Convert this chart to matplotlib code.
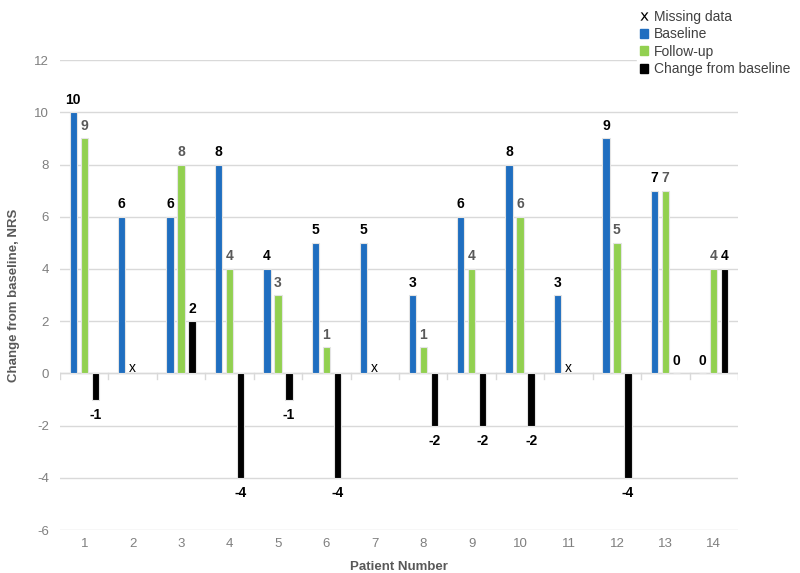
import numpy as np
import matplotlib.pyplot as plt
from matplotlib.lines import Line2D
import matplotlib.patches as mpatches

# ── data ───────────────────────────────────────────────────────────────────
patients = list(range(1, 15))
baseline = [10, 6, 6, 8, 4, 5, 5, 3, 6, 8, 3, 9, 7, 0]
followup = [9, None, 8, 4, 3, 1, None, 1, 4, 6, None, 5, 7, 4]
change = [-1, None, 2, -4, -1, -4, None, -2, -2, -2, None, -4, 0, 4]

COLOR_BASE = '#1F6EC0'
COLOR_FOLLOW = '#92D050'
COLOR_CHANGE = '#000000'
GRAY = '#7F7F7F'

plt.rcParams['font.family'] = ['Liberation Sans', 'DejaVu Sans']
plt.rcParams['axes.unicode_minus'] = False

fig = plt.figure(figsize=(8.0, 5.73), dpi=100)
ax = fig.add_axes([0.075, 0.075, 0.8475, 0.82])

x = np.arange(len(patients))
off = 0.228
w = 0.15


def nan_list(vals):
    return [np.nan if v is None else v for v in vals]


ax.bar(x - off, baseline, w, color=COLOR_BASE, edgecolor='#e4e4e4', linewidth=0.8, zorder=3)
ax.bar(x, nan_list(followup), w, color=COLOR_FOLLOW, edgecolor='#e4e4e4', linewidth=0.8, zorder=3)
ax.bar(x + off, nan_list(change), w, color=COLOR_CHANGE, edgecolor='#e4e4e4', linewidth=0.8, zorder=3)


def label(xp, v, color):
    if v >= 0:
        ax.annotate(f'{v}', (xp, v), xytext=(0, 4), textcoords='offset points',
                    ha='center', va='bottom', fontsize=10, fontweight='bold',
                    color=color, zorder=4)
    else:
        ax.annotate(f'{v}', (xp, v), xytext=(0, -6), textcoords='offset points',
                    ha='center', va='top', fontsize=10, fontweight='bold',
                    color=color, zorder=4)


for i in x:
    label(i - off, baseline[i], '#000000')
    if followup[i] is None:
        ax.text(i, -0.05, 'x', ha='center', va='bottom', fontsize=10,
                color='#000000', zorder=4)
    else:
        label(i, followup[i], '#595959')
    if change[i] is not None:
        label(i + off, change[i], '#000000')

ax.set_ylim(-6, 12)
ax.set_xlim(-0.5, len(patients) - 0.5)
ax.set_yticks(range(-6, 13, 2))
ax.set_xticks(x)
ax.set_xticklabels([str(p) for p in patients])
ax.grid(axis='y', color='#d9d9d9', linewidth=1.0, zorder=0)
ax.set_axisbelow(True)
for s in ax.spines.values():
    s.set_visible(False)
ax.tick_params(axis='both', length=0, labelsize=9.5, labelcolor=GRAY)
ax.tick_params(axis='x', pad=6)
ax.tick_params(axis='y', pad=8)

# zero line with category boundary ticks
ax.axhline(0, color='#d9d9d9', linewidth=1.0, zorder=2)
for b in np.arange(-0.5, len(patients), 1.0):
    ax.plot([b, b], [0, -0.22], color='#d9d9d9', linewidth=1.0, zorder=2)

ax.set_xlabel('Patient Number', fontsize=9.5, fontweight='bold', color='#595959', labelpad=8)
ax.set_ylabel('Change from baseline, NRS', fontsize=9.5, fontweight='bold', color='#595959', labelpad=10)

handles = [
    Line2D([], [], linestyle='none', marker='$\\mathrm{x}$', color='#000000',
           markersize=6, markeredgewidth=0),
    mpatches.Patch(color=COLOR_BASE),
    mpatches.Patch(color=COLOR_FOLLOW),
    mpatches.Patch(color=COLOR_CHANGE),
]
labels = ['Missing data', 'Baseline', 'Follow-up', 'Change from baseline']
leg = fig.legend(handles, labels, loc='upper right', bbox_to_anchor=(1.0, 1.0),
                 frameon=True, facecolor='white', edgecolor='white', framealpha=1,
                 fontsize=10, handlelength=0.6, handleheight=0.6, handletextpad=0.4,
                 labelspacing=0.25, borderpad=0.2, labelcolor='#404040')
leg.set_zorder(10)

fig.savefig('out.png', dpi=100)
